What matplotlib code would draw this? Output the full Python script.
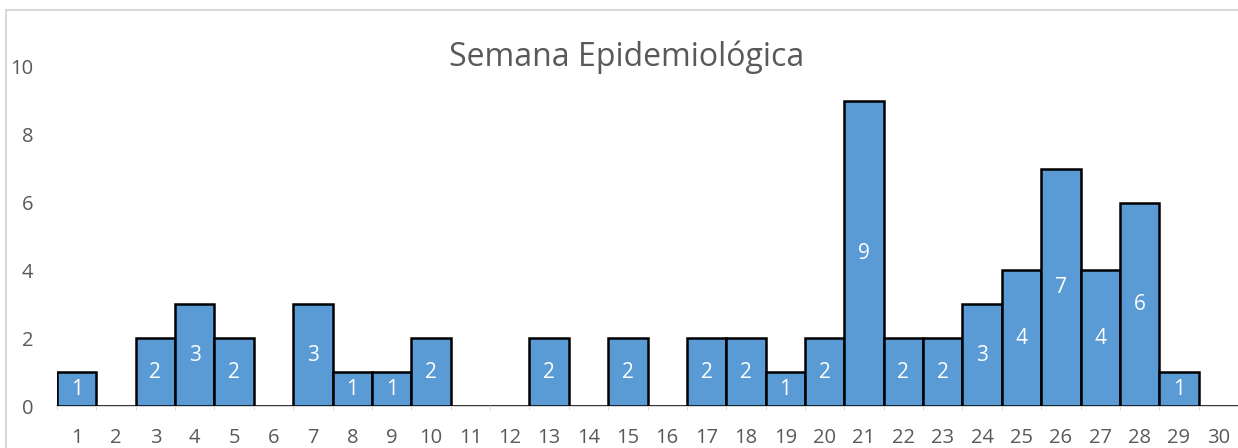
import matplotlib.pyplot as plt
from matplotlib.patches import Rectangle
import numpy as np

semanas = [str(i) for i in range(1, 31)]
casos = [1, 0, 2, 3, 2, 0, 3, 1, 1, 2, 0, 0, 2, 0, 2, 0, 2, 2, 1, 2, 9, 2, 2, 3, 4, 7, 4, 6, 1, 0]
yticks = [0, 2, 4, 6, 8, 10]

plt.rcParams['font.family'] = ['Open Sans', 'DejaVu Sans']

fig = plt.figure(figsize=(12.38, 4.48), dpi=100)
ax = fig.add_axes([57/1238, 1 - 406/448, 1 - 57/1238, (406 - 67)/448])

# light border of the chart area
fig.patches.append(Rectangle((6/1238, -0.1), 1.2, 1 - 10/448 + 0.1, transform=fig.transFigure,
                             fill=False, edgecolor='#D9D9D9', linewidth=1.5, zorder=0))

x = np.arange(len(semanas))
bars = ax.bar(x, casos, width=1.0, color='#5B9BD5', edgecolor='black', linewidth=1.8, zorder=3)

for b, v in zip(bars, casos):
    if v > 0:
        ax.text(b.get_x() + b.get_width()/2, v/2, str(v), ha='center', va='center',
                color='white', fontsize=15, zorder=4)

ax.set_xlim(-0.5, len(semanas) - 0.5)
ax.set_ylim(0, 10)
ax.set_yticks(yticks)
ax.set_xticks(x)
ax.set_xticklabels(semanas)
ax.set_xticks(np.arange(-0.5, len(semanas)), minor=True)
ax.tick_params(axis='x', which='major', length=0, pad=16, labelsize=14.5, labelcolor='#595959')
ax.tick_params(axis='x', which='minor', length=3, color='#D9D9D9')
ax.tick_params(axis='y', length=0, pad=17, labelsize=14.5, labelcolor='#595959')

for s in ['top', 'right', 'left']:
    ax.spines[s].set_visible(False)
ax.spines['bottom'].set_color('#D9D9D9')
ax.spines['bottom'].set_linewidth(1.5)
ax.patch.set_alpha(0)

fig.text(627/1238, 1 - 57/448, 'Semana Epidemiológica', ha='center', va='center',
         fontsize=23, color='#595959')

fig.savefig('out.png', dpi=100)
